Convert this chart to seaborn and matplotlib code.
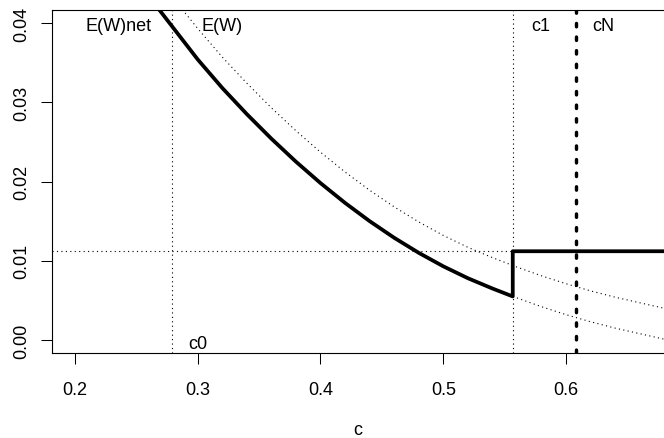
import matplotlib
matplotlib.use("Agg")
import matplotlib.pyplot as plt
import seaborn as sns
import pandas as pd

# ---- data ----
c_net = [0.2685, 0.28, 0.30, 0.32, 0.34, 0.36, 0.38, 0.40, 0.42, 0.44,
         0.46, 0.48, 0.50, 0.52, 0.54, 0.5566]
ew_net = [0.0417, 0.0394, 0.0354, 0.0318, 0.0285, 0.0254, 0.0225, 0.0198,
          0.0173, 0.0150, 0.0129, 0.0110, 0.0093, 0.0078, 0.0065, 0.0055]
c_net_tail = [0.5566, 0.58, 0.60, 0.62, 0.64, 0.66, 0.68]
ew_net_tail = [0.0055, 0.0042, 0.0032, 0.0023, 0.0015, 0.0008, 0.0001]
c_ew = [0.2875, 0.30, 0.32, 0.34, 0.36, 0.38, 0.40, 0.42, 0.44, 0.46,
        0.48, 0.50, 0.52, 0.54, 0.56, 0.58, 0.60, 0.62, 0.64, 0.66, 0.68]
ew = [0.0417, 0.0393, 0.0357, 0.0324, 0.0293, 0.0264, 0.0237, 0.0212,
      0.0189, 0.0168, 0.0149, 0.0132, 0.0117, 0.0104, 0.0092, 0.0081,
      0.0071, 0.0062, 0.0054, 0.0047, 0.0040]
c0, c1, cN = 0.2793, 0.5566, 0.6079
level = 0.0112
x_end = 0.6800
x_ticks = [0.2, 0.3, 0.4, 0.5, 0.6]
x_ticklabels = ["0.2", "0.3", "0.4", "0.5", "0.6"]
y_ticks = [0.00, 0.01, 0.02, 0.03, 0.04]
y_ticklabels = ["0.00", "0.01", "0.02", "0.03", "0.04"]

plt.rcParams['font.family'] = ['Liberation Sans', 'DejaVu Sans']
FS = 13

fig = plt.figure(figsize=(6.64, 4.39), dpi=100)
ax = fig.add_axes([52/664, 1 - 354/439, 1 - 52/664, (354 - 11)/439])

thin = dict(color="black", lw=0.8, dashes=(1, 3))

# thick E(W)net with step to the flat level
thick_df = pd.DataFrame({"c": c_net + [c1, x_end], "v": ew_net + [level, level]})
sns.lineplot(data=thick_df, x="c", y="v", sort=False, estimator=None,
             color="black", lw=2.7, ax=ax)
# dotted continuation of E(W)net
sns.lineplot(x=c_net_tail, y=ew_net_tail, sort=False, estimator=None,
             ax=ax, **thin)
# dotted E(W)
sns.lineplot(x=c_ew, y=ew, sort=False, estimator=None, ax=ax, **thin)

ax.axhline(level, **thin)
ax.axvline(c0, **thin)
ax.axvline(c1, **thin)
ax.axvline(cN, color="black", lw=2.45, dashes=(1, 3), dash_capstyle="round")

ax.set_xlim(0.1813, 0.6798)
ax.set_ylim(-0.00164, 0.04164)

ax.set_xticks(x_ticks)
ax.set_xticklabels(x_ticklabels, fontsize=FS)
ax.set_yticks(y_ticks)
ax.set_yticklabels(y_ticklabels, fontsize=FS, rotation=90, va="center")
ax.tick_params(axis="x", length=8, width=0.75, pad=11.9)
ax.tick_params(axis="y", length=8, width=0.75, pad=7.8)
ax.set_xlabel("c", fontsize=FS, labelpad=16.8)
ax.set_ylabel("")

for s in ["left", "bottom", "top"]:
    ax.spines[s].set_linewidth(0.8)
ax.spines["right"].set_visible(False)

ax.text(0.2625, 0.0397, "E(W)net", ha="right", va="center", fontsize=FS)
ax.text(0.3032, 0.0397, "E(W)", ha="left", va="center", fontsize=FS)
ax.text(0.5718, 0.0397, "c1", ha="left", va="center", fontsize=FS)
ax.text(0.6210, 0.0397, "cN", ha="left", va="center", fontsize=FS)
ax.text(0.2923, -0.0004, "c0", ha="left", va="center", fontsize=FS)

fig.savefig("out.png", dpi=100)
